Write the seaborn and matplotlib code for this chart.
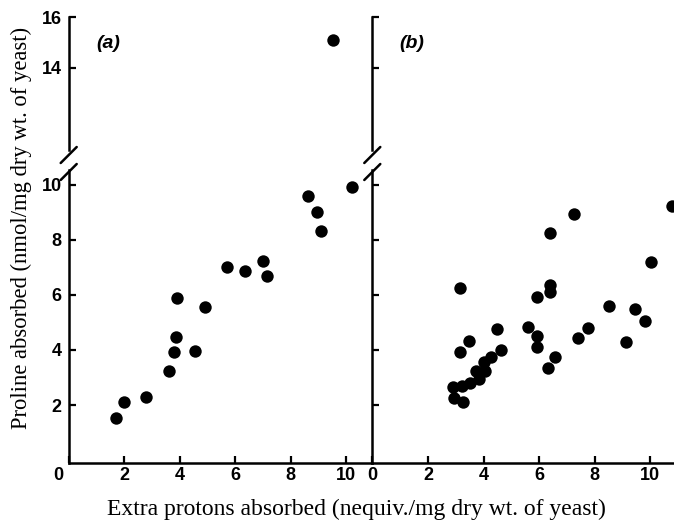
import matplotlib
matplotlib.use("Agg")
import matplotlib.pyplot as plt
from matplotlib import font_manager
from matplotlib.transforms import ScaledTranslation
from matplotlib.lines import Line2D
import seaborn as sns
import pandas as pd

# ---- data ----
a_x = [1.70, 2.00, 2.78, 3.60, 3.80, 3.87, 3.90, 4.56, 4.90, 5.70, 6.36, 7.00, 7.15,
       8.64, 8.96, 9.11, 10.22, 9.55]
a_y = [1.55, 2.10, 2.29, 3.22, 3.91, 4.46, 5.90, 3.98, 5.57, 7.00, 6.86, 7.24, 6.68,
       9.58, 8.99, 8.31, 9.92, 15.08]
b_x = [10.79, 7.26, 6.39, 10.01, 3.14, 5.92, 6.39, 6.39, 8.51, 9.46, 9.82, 7.75, 7.39,
       9.11, 5.61, 5.94, 5.94, 6.58, 6.31, 4.48, 4.62, 3.49, 3.15, 4.27, 4.02, 4.04,
       3.73, 3.83, 3.51, 3.24, 2.90, 2.93, 3.26]
b_y = [9.22, 8.94, 8.23, 7.20, 6.24, 5.94, 6.36, 6.12, 5.59, 5.48, 5.05, 4.79, 4.44,
       4.30, 4.82, 4.52, 4.11, 3.74, 3.33, 4.77, 4.00, 4.34, 3.92, 3.76, 3.58, 3.25,
       3.22, 2.93, 2.81, 2.70, 2.64, 2.27, 2.11]
x_ticks = [0, 2, 4, 6, 8, 10]
low_yticks = [2, 4, 6, 8, 10]
up_yticks = [14, 16]
panel_labels = ["(a)", "(b)"]
xlabel = "Extra protons absorbed (nequiv./mg dry wt. of yeast)"
ylabel = "Proline absorbed (nmol/mg dry wt. of yeast)"

sns.set_style("ticks")


def pick(names):
    for n in names:
        try:
            font_manager.findfont(n, fallback_to_default=False)
            return n
        except Exception:
            pass
    return "DejaVu Sans"


tick_font = pick(["Liberation Sans Narrow", "Liberation Sans"])
serif_font = pick(["Liberation Serif", "DejaVu Serif"])
plt.rcParams["font.family"] = [tick_font, "DejaVu Sans"]
plt.rcParams["text.color"] = "black"
plt.rcParams["axes.edgecolor"] = "black"
plt.rcParams["xtick.color"] = "black"
plt.rcParams["ytick.color"] = "black"
plt.rcParams["xtick.labelcolor"] = "black"
plt.rcParams["ytick.labelcolor"] = "black"

W, H = 674, 521
fig = plt.figure(figsize=(W / 100, H / 100), dpi=100)

x0a, x1a = 68.7 / W, 372.3 / W
x1b = 1.0
low_b, low_t = 1 - 463 / H, 1 - 170 / H
up_b, up_t = 1 - 150 / H, 1 - 17 / H

axes = {}
for name, xl, xr in [("a", x0a, x1a), ("b", x1a, x1b)]:
    low = fig.add_axes([xl, low_b, xr - xl, low_t - low_b])
    up = fig.add_axes([xl, up_b, xr - xl, up_t - up_b])
    axes[name] = (low, up)

df_a = pd.DataFrame({"x": a_x, "y": a_y})
df_b = pd.DataFrame({"x": b_x, "y": b_y})

xlims = {"a": (0, 10.95), "b": (0, 10.85)}
for name, df in [("a", df_a), ("b", df_b)]:
    low, up = axes[name]
    for ax, lims in [(low, (-0.1, 10.53)), (up, (10.75, 16.0))]:
        sub = df[(df.y >= lims[0]) & (df.y <= lims[1])]
        sns.scatterplot(data=sub, x="x", y="y", ax=ax, color="black", s=80,
                        linewidth=0, clip_on=False)
        ax.set_xlim(*xlims[name])
        ax.set_ylim(*lims)
        ax.set_xlabel("")
        ax.set_ylabel("")
        ax.set_facecolor("none")
        for s in ["top", "right"]:
            ax.spines[s].set_visible(False)
        ax.spines["left"].set_linewidth(1.8)
        ax.spines["left"].set_color("black")
        ax.tick_params(axis="both", direction="in", length=5, width=1.6,
                       labelsize=13, pad=5, colors="black")
    low.spines["bottom"].set_linewidth(1.8)
    low.spines["bottom"].set_color("black")
    low.set_xticks(x_ticks)
    low.set_xticklabels([str(t) for t in x_ticks], fontweight="bold")
    low.tick_params(axis="x", pad=3)
    low.set_yticks(low_yticks)
    up.set_yticks(up_yticks)
    up.spines["bottom"].set_visible(False)
    up.set_xticks([])
    if name == "a":
        low.set_yticklabels([str(t) for t in low_yticks], fontweight="bold")
        up.set_yticklabels([str(t) for t in up_yticks], fontweight="bold")
    else:
        low.set_yticklabels([])
        up.set_yticklabels([])
    up.text(0.13, 0.80, panel_labels[0 if name == "a" else 1], transform=up.transAxes,
            fontsize=14, fontweight="bold", fontstyle="italic", ha="center",
            va="center", color="black")
    # axis-break slashes
    xa = low.get_position().x0
    for yc_px in [155, 172]:
        yc = 1 - yc_px / H
        fig.add_artist(Line2D([xa - 8 / W, xa + 8 / W], [yc - 8 / H, yc + 8 / H],
                              color="black", lw=1.8, transform=fig.transFigure))

# shift left "0" label leftwards
lbl0 = axes["a"][0].get_xticklabels()[0]
lbl0.set_transform(lbl0.get_transform() + ScaledTranslation(-10 / 100, 0, fig.dpi_scale_trans))

fig.text(356.5 / W, 1 - 509 / H, xlabel, family=serif_font, fontsize=17,
         ha="center", va="center", color="black")
fig.text(21 / W, 1 - 228 / H, ylabel, family=serif_font, fontsize=16.3,
         ha="center", va="center", rotation=90, color="black")

fig.savefig("out.png", dpi=100)
